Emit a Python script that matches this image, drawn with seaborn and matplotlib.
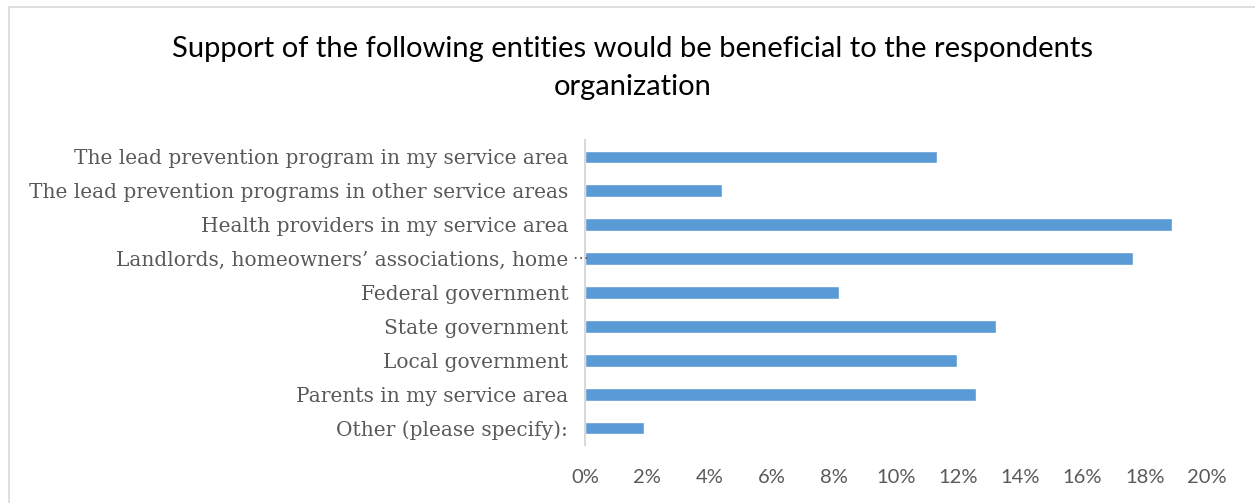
import matplotlib
matplotlib.use("Agg")
import matplotlib.pyplot as plt
import matplotlib.ticker as mticker
from matplotlib.patches import Rectangle
import seaborn as sns
import pandas as pd

# Survey responses: share of respondents naming each entity
categories = [
    "The lead prevention program in my service area",
    "The lead prevention programs in other service areas",
    "Health providers in my service area",
    "Landlords, homeowners’ associations, home⋯",
    "Federal government",
    "State government",
    "Local government",
    "Parents in my service area",
    "Other (please specify):",
]
shares = [0.1132, 0.0440, 0.1887, 0.1761, 0.0818, 0.1321, 0.1195, 0.1258, 0.0189]
x_ticks = [0.00, 0.02, 0.04, 0.06, 0.08, 0.10, 0.12, 0.14, 0.16, 0.18, 0.20]
title_text = ("Support of the following entities would be beneficial to the respondents\n"
              "organization")

df = pd.DataFrame({"entity": categories, "share": shares})

sns.set_theme(style="white")
W, H = 1255, 503
fig = plt.figure(figsize=(W / 100, H / 100), dpi=100)
fig.patch.set_facecolor("white")

# light chart-area frame
fig.patches.append(Rectangle((9 / W, -0.05), 1.2, 1 - 7 / H + 0.05,
                             transform=fig.transFigure, fill=False,
                             edgecolor="#d9d9d9", linewidth=1.2))

ax = fig.add_axes([585 / W, 1 - 445 / H, (1207 - 585) / W, (445 - 140) / H])
sns.barplot(data=df, x="share", y="entity", orient="h", color="#5B9BD5",
            saturation=1, width=0.38, ax=ax)

ax.set_xlim(0, 0.2)
ax.set_xticks(x_ticks)
ax.xaxis.set_major_formatter(mticker.PercentFormatter(1.0, decimals=0))
ax.set_xlabel("")
ax.set_ylabel("")
for s in ["top", "right", "bottom"]:
    ax.spines[s].set_visible(False)
ax.spines["left"].set_color("#d9d9d9")
ax.spines["left"].set_linewidth(1.5)
ax.tick_params(axis="both", length=0)
ax.tick_params(axis="y", pad=12)
ax.tick_params(axis="x", pad=17)

label_font = ["DejaVu Serif", "DejaVu Sans"]
label_color = "#595959"

# truncated category names: the ellipsis hangs into the gap next to the axis
ytick_texts = []
for i, name in enumerate(categories):
    if name.endswith("⋯"):
        ytick_texts.append(name[:-1])
        ax.annotate("⋯", xy=(0, i), xycoords=("axes fraction", "data"),
                    xytext=(-3.5, 0), textcoords="offset points",
                    ha="center", va="center", fontsize=11.5,
                    family=label_font, color=label_color)
    else:
        ytick_texts.append(name)
ax.set_yticks(range(len(categories)))
ax.set_yticklabels(ytick_texts)

for lab in ax.get_yticklabels():
    lab.set_fontfamily(label_font)
    lab.set_fontsize(14.5)
    lab.set_color(label_color)
for lab in ax.get_xticklabels():
    lab.set_fontfamily(["Lato", "DejaVu Sans"])
    lab.set_fontsize(14.5)
    lab.set_color(label_color)

fig.text(633 / W, 1 - 68 / H, title_text, ha="center", va="center",
         fontsize=21, family=["Lato", "DejaVu Sans"], color="black",
         linespacing=1.55)

fig.savefig("out.png", dpi=100, facecolor="white")
